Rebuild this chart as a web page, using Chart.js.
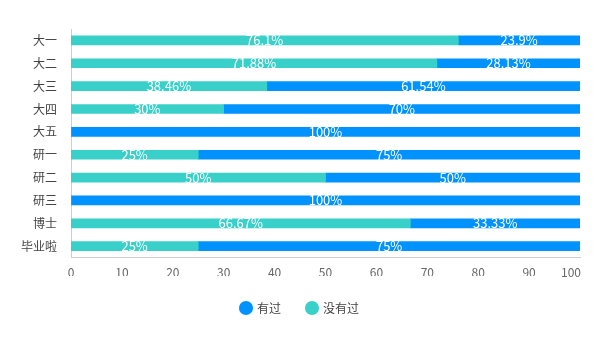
<!DOCTYPE html>
<html>
<head>
<meta charset="utf-8">
<script src="https://cdn.jsdelivr.net/npm/chart.js@4/dist/chart.umd.min.js"></script>
<style>
  html, body { margin: 0; padding: 0; background: #fff; }
  #wrap { width: 600px; height: 340px; position: relative; }
</style>
</head>
<body>
<div id="wrap"><canvas id="chart"></canvas></div>
<script>
const categories = ["大一", "大二", "大三", "大四", "大五", "研一", "研二", "研三", "博士", "毕业啦"];
const neverValues = [76.1, 71.88, 38.46, 30, 0, 25, 50, 0, 66.67, 25];
const hadValues = [23.9, 28.13, 61.54, 70, 100, 75, 50, 100, 33.33, 75];
const xTicks = [0, 10, 20, 30, 40, 50, 60, 70, 80, 90, 100];

const FONT = "'Noto Sans CJK SC', 'Noto Sans', sans-serif";
const lastTick = xTicks[xTicks.length - 1];

// simple inline label plugin: value + % in the middle of each segment
const segmentLabels = {
  id: "segmentLabels",
  afterDatasetsDraw(chart) {
    const ctx = chart.ctx;
    ctx.save();
    ctx.font = "13px " + FONT;
    ctx.fillStyle = "#fff";
    ctx.textAlign = "center";
    ctx.textBaseline = "middle";
    chart.data.datasets.forEach((ds, i) => {
      const meta = chart.getDatasetMeta(i);
      if (meta.hidden) return;
      meta.data.forEach((bar, j) => {
        const v = ds.data[j];
        if (!v) return;
        const mid = (bar.x + bar.base) / 2;
        ctx.fillText(v + "%", mid, bar.y);
      });
    });
    // last x tick kept inside the chart, right aligned
    const xs = chart.scales.x;
    ctx.font = "12px " + FONT;
    ctx.fillStyle = "#666";
    ctx.textAlign = "right";
    ctx.textBaseline = "top";
    ctx.fillText(String(lastTick), xs.getPixelForValue(lastTick) + 1, xs.top + 9);
    ctx.restore();
  }
};

new Chart(document.getElementById("chart"), {
  type: "bar",
  data: {
    labels: categories,
    datasets: [
      { label: "没有过", data: neverValues, backgroundColor: "#38d0c8", barThickness: 9 },
      { label: "有过", data: hadValues, backgroundColor: "#0093ff", barThickness: 9 }
    ]
  },
  options: {
    indexAxis: "y",
    responsive: true,
    maintainAspectRatio: false,
    animation: false,
    layout: { padding: { top: 29, right: 20, left: 20, bottom: 16 } },
    plugins: {
      legend: {
        position: "bottom",
        reverse: true,
        labels: {
          usePointStyle: true,
          pointStyle: "circle",
          boxWidth: 10,
          boxHeight: 10,
          padding: 26,
          color: "#444",
          font: { family: FONT, size: 12 }
        }
      },
      tooltip: { enabled: false }
    },
    scales: {
      x: {
        stacked: true,
        min: 0,
        max: 100,
        afterBuildTicks: (axis) => { axis.ticks = xTicks.map(v => ({ value: v })); },
        afterFit: (axis) => { axis.height -= 12; },
        grid: { display: false, drawTicks: false },
        border: { display: true, color: "#ccd" },
        ticks: {
          color: "#666", padding: 8, font: { family: FONT, size: 12 },
          callback: (v) => (v === lastTick ? "" : v)
        }
      },
      y: {
        stacked: true,
        afterFit: (axis) => { axis.width = 51; },
        grid: { display: false, drawTicks: false },
        border: { display: true, color: "#ccd" },
        ticks: { color: "#444", padding: 14, font: { family: FONT, size: 12 } }
      }
    }
  },
  plugins: [segmentLabels]
});
</script>
</body>
</html>
